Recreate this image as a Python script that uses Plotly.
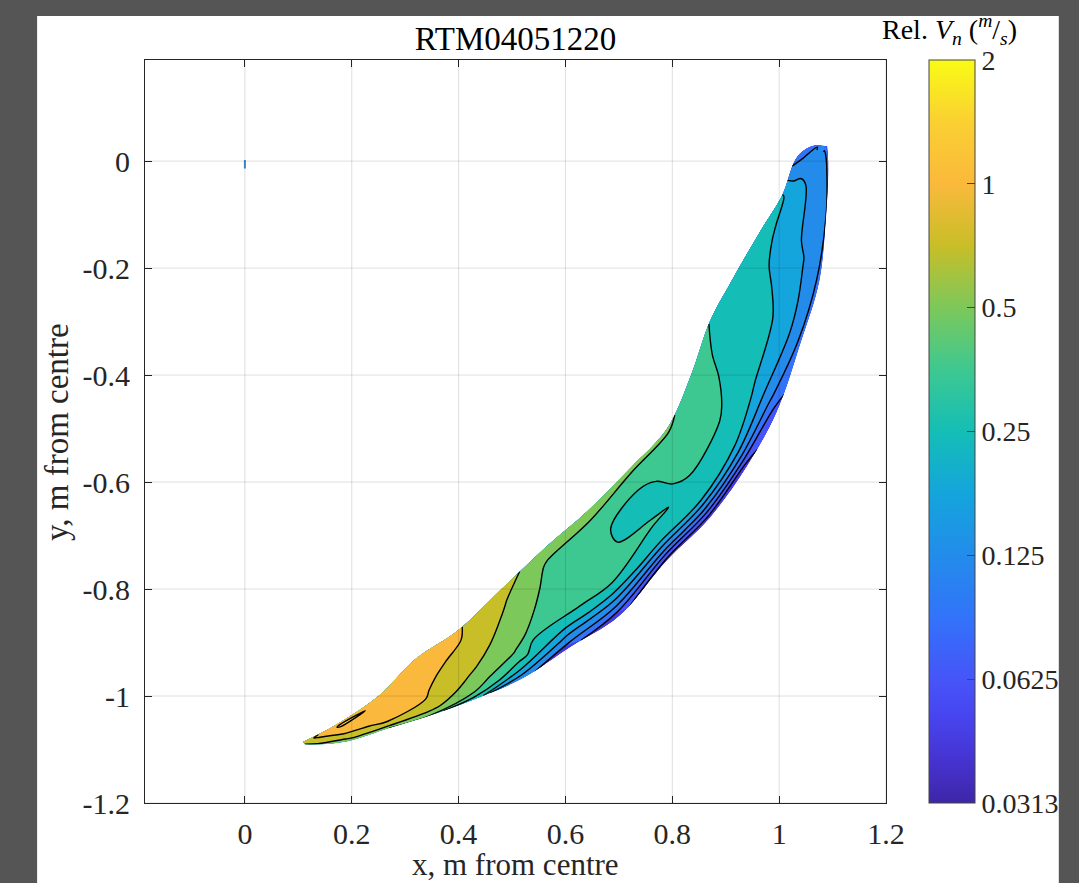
import numpy as np
import plotly.graph_objects as go

# blade cross-sections: leading edge (upper-left) -> trailing edge (lower-right)
le_x = [0.108, 0.178, 0.252, 0.320, 0.400, 0.480, 0.560, 0.640, 0.720, 0.790, 0.835, 0.870, 0.910, 0.965, 1.005, 1.035, 1.070]
le_y = [-1.086, -1.049, -0.998, -0.930, -0.876, -0.800, -0.724, -0.655, -0.575, -0.500, -0.400, -0.300, -0.225, -0.130, -0.065, 0.010, 0.030]
te_x = [0.112, 0.190, 0.270, 0.345, 0.430, 0.520, 0.610, 0.700, 0.790, 0.870, 0.940, 0.995, 1.040, 1.075, 1.088, 1.092, 1.090]
te_y = [-1.090, -1.085, -1.060, -1.037, -1.006, -0.967, -0.908, -0.851, -0.746, -0.667, -0.570, -0.470, -0.340, -0.225, -0.100, -0.015, 0.028]
frac = [0, 0.15, 0.3, 0.45, 0.6, 0.7, 0.8, 0.9, 1.0]

# relative Vn (m/s), one row per section, leading edge first
vn = [
    [0.85, 0.85, 0.82, 0.80, 0.78, 0.76, 0.74, 0.72, 0.70],
    [1.25, 1.50, 1.30, 1.12, 1.00, 0.90, 0.78, 0.68, 0.60],
    [1.20, 1.36, 1.30, 1.22, 1.15, 1.08, 1.00, 0.85, 0.50],
    [1.12, 1.15, 1.12, 1.08, 1.04, 1.01, 0.95, 0.80, 0.50],
    [1.02, 1.00, 0.93, 0.85, 0.75, 0.68, 0.60, 0.52, 0.30],
    [0.80, 0.72, 0.66, 0.60, 0.54, 0.49, 0.38, 0.25, 0.14],
    [0.60, 0.48, 0.45, 0.42, 0.39, 0.35, 0.26, 0.16, 0.10],
    [0.55, 0.47, 0.37, 0.38, 0.40, 0.36, 0.24, 0.13, 0.065],
    [0.55, 0.40, 0.32, 0.31, 0.37, 0.31, 0.26, 0.13, 0.055],
    [0.52, 0.45, 0.42, 0.38, 0.33, 0.30, 0.25, 0.12, 0.050],
    [0.45, 0.42, 0.40, 0.37, 0.33, 0.29, 0.24, 0.12, 0.050],
    [0.35, 0.32, 0.31, 0.30, 0.28, 0.24, 0.18, 0.12, 0.070],
    [0.34, 0.30, 0.29, 0.27, 0.25, 0.22, 0.19, 0.16, 0.11],
    [0.30, 0.26, 0.23, 0.22, 0.20, 0.18, 0.165, 0.14, 0.115],
    [0.26, 0.23, 0.21, 0.19, 0.175, 0.16, 0.15, 0.14, 0.125],
    [0.09, 0.12, 0.15, 0.16, 0.16, 0.15, 0.14, 0.13, 0.12],
    [0.10, 0.11, 0.12, 0.13, 0.13, 0.13, 0.12, 0.12, 0.12],
]

origin_x = [0.0]
origin_y = [-0.006]

cbar_vals = [0.03125, 0.0625, 0.125, 0.25, 0.5, 1, 2]
cbar_text = ['0.0313', '0.0625', '0.125', '0.25', '0.5', '1', '2']
x_ticks = [0, 0.2, 0.4, 0.6, 0.8, 1.0, 1.2]
x_text = ['0', '0.2', '0.4', '0.6', '0.8', '1', '1.2']
y_ticks = [0, -0.2, -0.4, -0.6, -0.8, -1.0, -1.2]
y_text = ['0', '-0.2', '-0.4', '-0.6', '-0.8', '-1', '-1.2']

# parula-like colormap
cs_pos = [0.0, 0.06, 0.12, 0.167, 0.25, 0.333, 0.417, 0.5, 0.583, 0.667, 0.75, 0.833, 0.917, 1.0]
cs_col = ['rgb(62,38,168)', 'rgb(70,52,210)', 'rgb(71,70,240)', 'rgb(70,85,248)', 'rgb(50,115,250)',
          'rgb(35,140,235)', 'rgb(20,165,220)', 'rgb(20,190,182)', 'rgb(62,200,145)', 'rgb(125,200,90)',
          'rgb(200,190,40)', 'rgb(250,185,60)', 'rgb(250,208,50)', 'rgb(249,251,21)']
cscale = [[p, c] for p, c in zip(cs_pos, cs_col)]

z = np.log2(np.array(vn)).T
t = np.array(frac)[:, None]
gx = np.array(le_x) + t * (np.array(te_x) - np.array(le_x))
gy = np.array(le_y) + t * (np.array(te_y) - np.array(le_y))
stations = list(range(len(le_x)))

serif = "Liberation Serif"
ink = '#262626'

hidden = dict(showgrid=False, showline=False, showticklabels='none',
              startline=False, endline=False, minorgridcount=0)

fig = go.Figure()
fig.add_trace(go.Carpet(a=stations, b=frac, x=gx, y=gy, carpet='blade',
                        aaxis=dict(hidden, smoothing=1), baxis=dict(hidden, smoothing=0)))
# levels every half octave; each band takes the colour of its lower level (as in MATLAB)
fig.add_trace(go.Contourcarpet(
    a=stations, b=frac, z=z, carpet='blade', autocontour=False,
    contours=dict(start=-4.5, end=1, size=0.5, coloring='fill'),
    line=dict(color='black', width=1.4),
    colorscale=cscale, showscale=False))

fig.add_trace(go.Scatter(x=origin_x, y=origin_y, mode='markers', hoverinfo='skip',
                         marker=dict(symbol='line-ns', size=6, line=dict(color='#3a8fd6', width=2))))

# continuous colorbar
fig.add_trace(go.Scatter(
    x=[None], y=[None], mode='markers', hoverinfo='skip',
    marker=dict(color=[0], colorscale=cscale, cmin=-5, cmax=1, showscale=True,
                colorbar=dict(x=(929 - 145) / 742, xanchor='left', y=0.5, yanchor='middle',
                              len=1, lenmode='fraction', thickness=46, thicknessmode='pixels',
                              xpad=0, ypad=0, outlinecolor='#444', outlinewidth=1,
                              ticks='inside', ticklen=8, tickcolor='#444',
                              tickvals=list(np.log2(cbar_vals)), ticktext=cbar_text,
                              tickfont=dict(family=serif, size=28, color=ink)))))

# grid drawn over the data, like the original
shapes = [dict(type='rect', xref='paper', yref='paper', x0=-0.1456, x1=1.2332, y0=-0.2, y1=1.0592,
               fillcolor='white', line=dict(width=0), layer='below')]
for v in x_ticks:
    shapes.append(dict(type='line', xref='x', yref='paper', x0=v, x1=v, y0=0, y1=1,
                       line=dict(color='rgba(0,0,0,0.13)', width=1), layer='above'))
for v in y_ticks:
    shapes.append(dict(type='line', xref='paper', yref='y', x0=0, x1=1, y0=v, y1=v,
                       line=dict(color='rgba(0,0,0,0.13)', width=1), layer='above'))

axis_common = dict(showgrid=False, zeroline=False, showline=True, linecolor=ink, linewidth=1.2,
                   mirror='ticks', ticks='inside', ticklen=7, tickcolor=ink,
                   tickfont=dict(family=serif, size=30, color=ink))

fig.update_layout(
    width=1079, height=883,
    margin=dict(l=145, r=192, t=60, b=80),
    paper_bgcolor='#555555', plot_bgcolor='white',
    showlegend=False,
    title=dict(text='RTM04051220', x=0.5, xref='paper', xanchor='center',
               y=1 - 38 / 883, yref='container', yanchor='middle',
               font=dict(family=serif, size=33, color='black')),
    xaxis=dict(axis_common, range=[-0.187, 1.2], tickvals=x_ticks, ticktext=x_text, ticklabelstandoff=4),
    yaxis=dict(axis_common, range=[-1.2, 0.189], tickvals=y_ticks, ticktext=y_text, ticklabelstandoff=8),
    shapes=shapes,
    annotations=[
        dict(text='x, m from centre', xref='paper', yref='paper', x=0.5, y=(803 - 864) / 743,
             xanchor='center', yanchor='middle', showarrow=False,
             font=dict(family=serif, size=31, color=ink)),
        dict(text='y, m from centre', xref='paper', yref='paper', x=(57 - 145) / 742, y=(803 - 432) / 743,
             xanchor='center', yanchor='middle', textangle=-90, showarrow=False,
             font=dict(family=serif, size=33, color=ink)),
        dict(text='Rel. <i>V<sub>n</sub></i> (<sup><i>m</i></sup>/<sub><i>s</i></sub>)',
             xref='paper', yref='paper', x=(951 - 145) / 742, y=(803 - 30) / 743,
             xanchor='center', yanchor='middle', showarrow=False,
             font=dict(family=serif, size=28, color='black')),
    ],
)

fig.write_html("out.html", config={'displayModeBar': False},
               post_script="document.body.style.margin='0';")
